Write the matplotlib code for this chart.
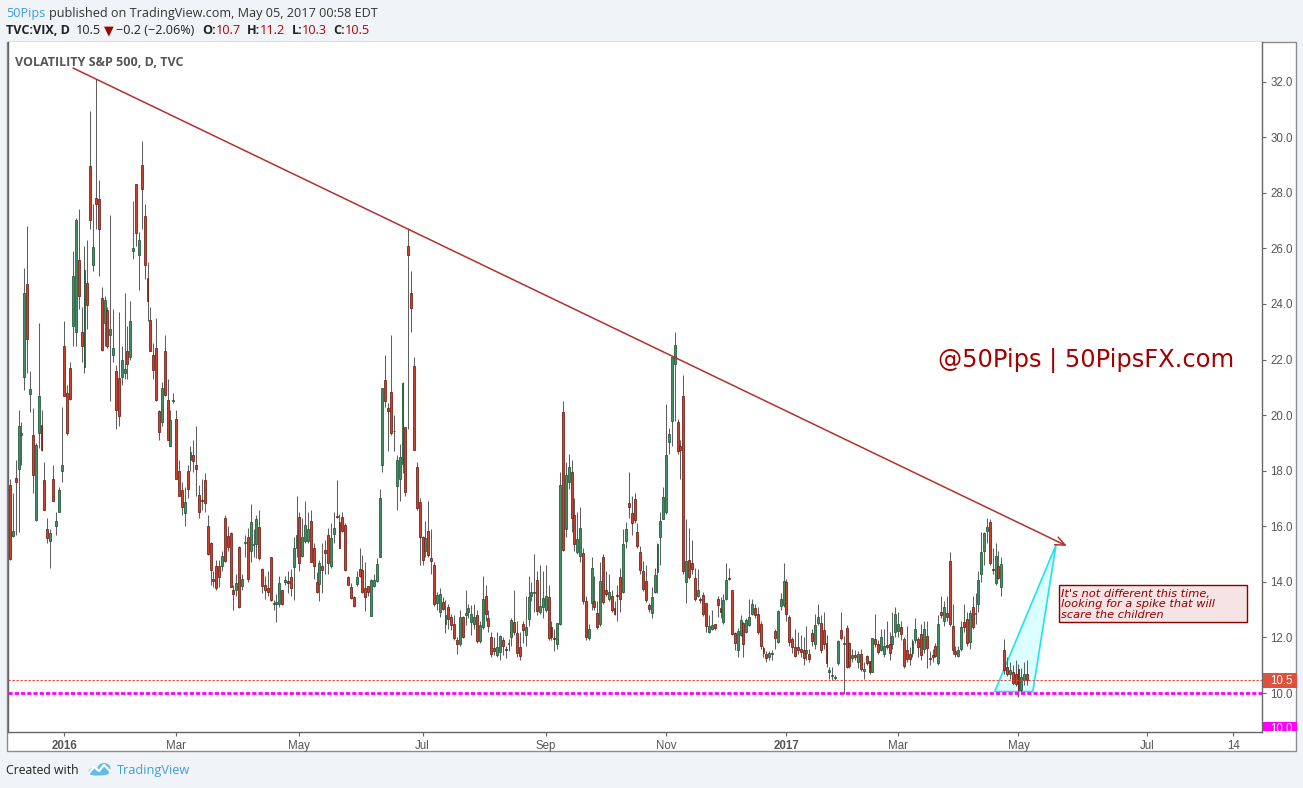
import numpy as np
import pandas as pd
import matplotlib
matplotlib.use("Agg")
import matplotlib.pyplot as plt
from matplotlib.patches import Rectangle, Polygon, Ellipse
from matplotlib.transforms import IdentityTransform

# VIX daily candles (open, high, low, close), per month
dec15 = [(17.50, 17.70, 14.80, 14.81), (15.65, 17.20, 15.60, 15.84), (17.75, 18.40, 15.70, 17.60),
         (18.06, 20.20, 15.80, 19.61), (19.27, 19.75, 18.20, 19.34), (21.36, 25.30, 20.90, 24.39),
         (24.70, 26.81, 21.50, 22.73), (20.75, 21.60, 20.10, 20.95), (19.27, 20.25, 17.20, 17.86),
         (16.22, 19.00, 16.20, 18.94), (19.36, 23.30, 18.80, 20.70), (19.65, 20.20, 18.70, 18.74),
         (17.66, 18.30, 16.60, 16.60), (15.90, 16.30, 15.40, 15.57), (15.46, 15.90, 14.50, 15.74),
         (17.70, 18.20, 16.90, 16.91), (16.00, 16.50, 15.70, 16.20), (16.50, 17.40, 16.50, 17.29),
         (17.99, 20.30, 17.60, 18.21)]
jan16 = [(22.48, 23.40, 20.70, 20.70), (20.78, 21.10, 19.30, 19.34), (21.69, 21.90, 20.55, 20.59),
         (23.20, 25.90, 22.50, 24.99), (22.98, 27.10, 22.50, 27.01), (25.57, 27.40, 23.80, 24.30),
         (22.98, 23.90, 21.90, 22.47), (21.73, 26.10, 21.50, 25.22), (24.74, 26.30, 23.10, 23.95),
         (28.96, 30.95, 26.70, 27.02), (25.40, 27.60, 25.20, 26.05), (27.80, 32.09, 26.70, 27.59),
         (27.78, 28.45, 25.00, 26.69), (24.20, 24.60, 22.30, 22.34), (23.30, 24.30, 22.50, 24.15),
         (23.78, 23.90, 22.40, 22.50), (22.87, 27.20, 20.50, 23.11), (22.16, 23.80, 21.90, 22.42),
         (21.60, 21.80, 19.50, 20.20)]
feb16 = [(21.33, 23.70, 19.60, 19.98), (21.36, 22.50, 21.10, 21.98), (21.50, 24.40, 21.30, 21.65),
         (22.30, 23.20, 21.30, 21.84), (22.08, 24.10, 22.00, 23.38), (25.90, 27.70, 25.60, 26.00),
         (28.30, 28.30, 26.10, 26.54), (25.76, 26.60, 24.50, 26.29), (29.00, 29.85, 26.70, 28.14),
         (27.17, 27.60, 24.90, 25.40), (24.95, 25.50, 23.40, 24.11), (23.42, 23.90, 22.30, 22.31),
         (22.16, 22.60, 21.30, 21.64), (22.41, 23.50, 20.50, 20.53), (20.16, 20.20, 19.10, 19.38),
         (19.75, 21.20, 19.60, 20.98), (22.31, 22.90, 20.70, 20.72), (20.54, 21.30, 19.10, 19.11),
         (18.88, 20.20, 18.88, 19.81), (20.50, 20.80, 20.45, 20.55)]
mar16 = [(19.86, 20.20, 17.70, 17.70), (17.99, 18.40, 17.09, 17.09), (17.30, 17.60, 16.40, 16.70),
         (16.48, 17.40, 16.00, 16.86), (17.99, 18.20, 17.00, 17.35), (18.38, 18.90, 18.00, 18.67),
         (18.56, 19.10, 17.95, 18.34), (18.20, 19.60, 17.10, 18.05), (17.13, 17.50, 16.30, 16.50),
         (16.95, 17.70, 16.60, 16.92), (17.66, 17.90, 16.50, 16.84), (16.00, 16.40, 14.95, 14.99),
         (15.40, 15.45, 13.90, 14.44), (14.10, 14.40, 13.80, 14.02), (14.56, 14.80, 13.70, 13.79),
         (14.56, 14.80, 13.80, 14.17), (14.56, 15.10, 14.40, 14.94), (16.30, 16.40, 14.70, 14.74),
         (15.64, 16.00, 15.10, 15.24), (15.75, 15.80, 13.80, 13.82), (13.70, 13.90, 13.00, 13.56),
         (13.72, 14.30, 13.50, 13.95)]
apr16 = [(15.24, 15.30, 13.05, 13.10), (13.86, 14.30, 13.70, 14.12), (15.38, 15.70, 14.90, 15.42),
         (15.60, 15.95, 14.00, 14.09), (15.12, 16.80, 14.70, 16.16), (15.33, 15.90, 14.90, 15.36),
         (15.36, 16.40, 14.85, 16.26), (15.96, 16.60, 14.80, 14.85), (14.48, 14.50, 13.60, 13.84),
         (13.90, 14.20, 13.40, 13.72), (13.78, 14.40, 13.50, 13.62), (14.88, 14.90, 13.30, 13.35),
         (13.20, 13.35, 13.00, 13.24), (13.20, 13.55, 12.55, 13.28), (13.20, 14.20, 13.10, 13.95),
         (13.70, 13.72, 13.18, 13.22), (14.00, 14.20, 13.90, 14.08), (14.02, 14.40, 13.60, 13.96),
         (14.16, 14.45, 13.50, 13.77), (14.52, 15.60, 13.35, 15.22), (15.20, 17.10, 14.90, 15.70)]
may16 = [(16.32, 16.50, 14.40, 14.68), (14.94, 16.30, 14.90, 15.60), (15.46, 16.90, 15.40, 16.05),
         (15.48, 16.50, 15.40, 15.91), (16.20, 16.60, 14.70, 14.72), (15.20, 15.40, 14.10, 14.57),
         (13.98, 14.35, 13.60, 13.63), (13.92, 14.80, 13.30, 14.69), (14.56, 15.40, 13.60, 14.41),
         (15.14, 15.50, 14.30, 15.04), (15.70, 15.95, 14.30, 14.68), (14.56, 16.10, 14.50, 15.57),
         (15.72, 16.50, 15.40, 15.95), (16.38, 17.66, 16.30, 16.33), (16.14, 16.45, 15.20, 15.20),
         (16.32, 16.50, 15.80, 15.82), (16.04, 16.10, 14.40, 14.42), (14.18, 14.20, 13.88, 13.90),
         (13.80, 13.95, 13.40, 13.43), (13.46, 13.50, 13.10, 13.12), (13.94, 14.40, 13.85, 14.19)]
jun16 = [(14.46, 15.20, 14.18, 14.20), (14.42, 14.95, 13.60, 13.63), (13.78, 14.70, 12.95, 13.47),
         (13.84, 13.86, 13.50, 13.65), (12.76, 14.10, 12.76, 14.05), (13.86, 14.30, 13.80, 14.08),
         (14.02, 14.85, 14.00, 14.64), (14.88, 17.35, 14.88, 17.03), (18.20, 20.97, 17.95, 20.97),
         (21.28, 22.15, 20.30, 20.50), (20.24, 20.45, 18.70, 20.14), (20.82, 22.90, 19.30, 19.37),
         (19.42, 20.00, 18.70, 19.41), (17.44, 18.55, 16.60, 18.37), (17.70, 18.95, 16.90, 18.48),
         (18.24, 21.20, 17.90, 21.17), (19.56, 19.56, 17.10, 17.25), (26.08, 26.72, 19.50, 25.76),
         (24.40, 25.20, 22.98, 23.85), (21.76, 22.10, 18.75, 18.75), (18.12, 18.30, 16.60, 16.64),
         (16.88, 17.00, 14.60, 15.63)]
jul16 = [(15.60, 15.65, 14.60, 14.77), (15.10, 16.20, 14.90, 15.58), (15.83, 16.90, 14.90, 14.96),
         (14.85, 15.90, 14.30, 14.76), (14.60, 14.70, 13.13, 13.20), (13.23, 13.65, 12.99, 13.54),
         (12.90, 13.77, 12.75, 13.55), (13.27, 13.47, 12.99, 13.04), (12.47, 13.35, 12.15, 12.82),
         (13.08, 13.20, 12.30, 12.67), (12.72, 12.85, 12.27, 12.44), (12.50, 12.80, 11.90, 11.97),
         (11.91, 12.00, 11.40, 11.77), (11.75, 13.00, 11.70, 12.74), (12.75, 12.78, 11.97, 12.02),
         (12.80, 13.70, 12.45, 12.87), (12.90, 13.20, 12.70, 13.05), (12.56, 13.15, 12.10, 12.83),
         (12.47, 13.20, 12.30, 12.72), (12.80, 13.00, 11.80, 11.87)]
aug16 = [(11.88, 12.60, 11.80, 12.44), (12.36, 14.20, 12.30, 13.37), (13.48, 13.90, 12.60, 12.86),
         (12.70, 13.00, 12.20, 12.42), (12.03, 12.20, 11.30, 11.39), (11.63, 12.00, 11.35, 11.50),
         (11.36, 12.20, 11.30, 11.66), (11.46, 12.10, 11.20, 12.05), (11.91, 12.00, 11.35, 11.68),
         (11.60, 11.70, 11.25, 11.55), (11.75, 11.95, 11.50, 11.81), (12.00, 12.70, 11.70, 12.64),
         (12.55, 13.70, 12.10, 12.19), (12.15, 12.60, 11.30, 11.43), (11.65, 12.20, 11.20, 11.34),
         (12.50, 12.60, 11.80, 12.27), (12.10, 13.50, 11.70, 12.38), (12.65, 14.20, 12.40, 13.45),
         (13.50, 14.00, 13.30, 13.63), (13.60, 15.00, 12.90, 13.65), (14.07, 14.40, 12.80, 12.94),
         (12.90, 14.60, 12.85, 13.12), (13.10, 14.40, 12.70, 13.42)]
sep16 = [(13.00, 14.60, 12.90, 13.48), (13.44, 13.90, 11.90, 11.98), (12.37, 12.60, 11.90, 12.02),
         (11.95, 12.30, 11.50, 11.94), (11.75, 12.50, 11.60, 12.51), (12.47, 17.95, 12.45, 17.50),
         (20.10, 20.51, 15.10, 15.16), (15.90, 18.30, 15.60, 17.85), (17.60, 18.60, 17.35, 18.14),
         (17.94, 18.40, 15.80, 16.30), (16.40, 17.00, 15.10, 15.37), (15.08, 16.50, 15.00, 15.53),
         (14.94, 16.70, 14.70, 15.92), (15.03, 15.20, 13.20, 13.30), (13.32, 13.50, 11.90, 12.00),
         (11.97, 12.50, 11.90, 12.29), (13.23, 14.90, 13.00, 14.50), (13.32, 14.20, 13.00, 13.10),
         (12.87, 13.30, 12.30, 12.39), (12.50, 14.70, 12.40, 14.02), (14.88, 15.00, 13.20, 13.29)]
oct16 = [(13.71, 14.40, 13.50, 13.57), (13.37, 14.30, 13.30, 13.63), (13.50, 13.70, 12.90, 12.99),
         (13.07, 13.30, 12.80, 12.84), (13.52, 13.90, 12.60, 13.48), (14.16, 14.50, 12.90, 13.38),
         (13.65, 15.90, 13.60, 15.36), (15.48, 16.15, 15.20, 15.91), (16.85, 17.95, 16.30, 16.69),
         (16.46, 17.10, 15.70, 16.12), (16.97, 17.20, 16.10, 16.21), (15.78, 16.10, 15.20, 15.28),
         (15.08, 15.30, 14.30, 14.41), (14.39, 14.75, 13.68, 13.75), (14.03, 14.60, 13.29, 13.34),
         (13.17, 13.25, 12.90, 13.02), (12.87, 13.80, 12.70, 13.46), (13.62, 14.50, 13.60, 14.24),
         (14.34, 15.40, 13.60, 15.36), (15.63, 16.50, 14.60, 16.19), (16.26, 17.40, 16.26, 17.06)]
nov16 = [(16.50, 20.40, 16.45, 18.56), (19.05, 19.55, 18.60, 19.32), (19.80, 22.10, 18.90, 22.08),
         (21.83, 23.00, 19.80, 22.51), (19.74, 19.85, 18.60, 18.71), (18.89, 19.10, 17.70, 18.74),
         (20.69, 21.44, 14.30, 14.38), (13.98, 16.25, 13.25, 14.74), (14.79, 15.95, 14.10, 14.17),
         (14.67, 15.50, 14.30, 14.48), (14.13, 14.50, 13.30, 13.37), (13.49, 14.45, 13.45, 13.72),
         (13.40, 13.45, 13.25, 13.35), (13.53, 13.65, 12.77, 12.85), (13.23, 13.23, 12.20, 12.42),
         (12.21, 12.80, 12.17, 12.41), (12.29, 13.00, 12.27, 12.43), (12.49, 12.50, 12.27, 12.34),
         (13.37, 13.50, 12.75, 13.15), (13.05, 13.45, 12.70, 12.90), (12.55, 13.56, 12.50, 13.33)]
dec16 = [(13.39, 14.67, 13.35, 14.07), (14.13, 14.50, 14.07, 14.12), (13.71, 13.71, 12.10, 12.14),
         (12.15, 12.20, 11.55, 11.79), (11.55, 12.33, 11.30, 12.22), (12.09, 12.80, 12.05, 12.64),
         (12.53, 12.57, 11.30, 11.75), (12.21, 12.70, 12.15, 12.64), (12.45, 13.37, 12.40, 12.72),
         (12.85, 13.37, 12.80, 13.19), (13.05, 13.20, 12.70, 12.79), (12.85, 13.08, 12.12, 12.20),
         (12.47, 12.60, 11.60, 11.70), (11.61, 11.70, 11.30, 11.45), (11.39, 11.50, 11.10, 11.27),
         (11.30, 11.50, 11.20, 11.43), (11.40, 11.55, 11.20, 11.44), (12.23, 12.30, 11.60, 11.99),
         (11.85, 13.00, 11.80, 12.95), (13.13, 13.60, 13.00, 13.37), (13.17, 14.68, 13.10, 14.04)]
jan17 = [(14.00, 14.10, 12.60, 12.85), (12.75, 12.80, 11.70, 11.85), (11.93, 12.00, 11.45, 11.67),
         (11.67, 12.30, 11.30, 11.32), (11.67, 12.20, 11.40, 11.56), (11.60, 12.10, 11.30, 11.49),
         (11.55, 12.00, 11.00, 11.26), (11.45, 12.40, 11.20, 11.54), (11.39, 11.60, 11.10, 11.23),
         (12.15, 12.30, 11.70, 11.87), (11.77, 12.85, 11.60, 12.45), (12.53, 13.20, 12.45, 12.75),
         (12.53, 12.80, 11.45, 11.54), (12.27, 12.90, 11.60, 11.77), (11.81, 12.10, 10.95, 11.07),
         (10.75, 10.95, 10.50, 10.81), (10.60, 10.95, 10.45, 10.63), (10.55, 10.65, 10.45, 10.58),
         (11.07, 11.90, 11.00, 11.88), (12.27, 12.90, 11.90, 11.99)]
feb17 = [(11.75, 12.05, 9.95, 11.80), (12.33, 12.45, 10.90, 10.95), (11.80, 11.85, 10.90, 10.97),
         (11.25, 11.60, 11.10, 11.37), (11.37, 11.55, 11.20, 11.30), (11.13, 11.50, 10.90, 11.40),
         (11.40, 11.60, 10.80, 10.88), (10.80, 11.10, 10.50, 10.85), (11.34, 11.35, 11.00, 11.07),
         (11.15, 11.15, 10.70, 10.74), (10.76, 11.97, 10.76, 11.97), (11.96, 12.85, 11.65, 11.76),
         (11.78, 11.90, 11.40, 11.49), (11.54, 12.30, 11.50, 12.02), (11.42, 12.30, 11.30, 11.70),
         (11.72, 12.60, 11.60, 11.64), (11.76, 12.20, 11.20, 11.45), (11.75, 12.90, 11.60, 12.05),
         (12.20, 13.10, 12.00, 12.86)]
mar17 = [(12.24, 12.90, 12.00, 12.50), (12.38, 12.60, 11.90, 12.14), (11.93, 12.00, 10.90, 10.96),
         (11.54, 12.40, 11.10, 11.24), (11.40, 11.65, 11.00, 11.21), (11.45, 11.95, 11.30, 11.86),
         (11.90, 12.70, 11.80, 12.30), (11.94, 12.00, 11.30, 11.66), (12.12, 12.50, 11.20, 11.35),
         (11.57, 12.60, 11.45, 12.30), (12.05, 12.60, 10.90, 11.63), (11.25, 11.50, 11.00, 11.21),
         (11.36, 11.60, 11.10, 11.28), (11.69, 11.80, 11.30, 11.34), (11.09, 12.80, 11.00, 12.47),
         (12.92, 13.50, 12.70, 12.81), (12.60, 13.30, 12.40, 13.08), (12.89, 13.50, 12.60, 12.72),
         (14.75, 15.08, 12.40, 12.50), (12.41, 13.20, 11.40, 11.53), (11.51, 11.70, 11.30, 11.42),
         (11.34, 11.70, 11.30, 11.54), (11.57, 12.60, 11.50, 12.37)]
apr17 = [(12.54, 13.20, 12.20, 12.38), (12.68, 12.90, 11.70, 11.79), (11.84, 13.00, 11.60, 12.89),
         (13.08, 13.50, 12.30, 12.39), (12.84, 13.60, 12.50, 12.87), (13.19, 14.40, 12.90, 14.05),
         (14.28, 15.80, 14.00, 15.07), (15.12, 15.80, 14.60, 15.77), (15.84, 16.28, 15.40, 15.96),
         (16.16, 16.25, 14.60, 14.66), (14.46, 15.20, 14.30, 14.42), (13.97, 15.40, 13.90, 14.93),
         (14.57, 15.10, 14.10, 14.15), (13.80, 14.90, 13.50, 14.63), (11.54, 11.96, 10.70, 10.84),
         (10.94, 11.30, 10.60, 10.68), (10.70, 11.10, 10.50, 10.82), (10.76, 11.00, 10.30, 10.36),
         (10.70, 11.20, 10.25, 10.31)]
may17 = [(10.88, 11.06, 9.86, 10.11), (10.10, 10.90, 10.05, 10.58), (10.46, 11.10, 10.30, 10.68),
         (10.70, 11.20, 10.30, 10.46)]

holidays = ['2015-12-25', '2016-01-01', '2016-01-18', '2016-02-15', '2016-03-25', '2016-05-30',
            '2016-07-04', '2016-09-05', '2016-11-24', '2016-12-26', '2017-01-02', '2017-01-16',
            '2017-02-20', '2017-04-14']

tick_dates = ['2016-01-01', '2016-03-01', '2016-05-01', '2016-07-01', '2016-09-01', '2016-11-01',
              '2017-01-01', '2017-03-01', '2017-05-01', '2017-07-03', '2017-08-14']
tick_labels = ['2016', 'Mar', 'May', 'Jul', 'Sep', 'Nov', '2017', 'Mar', 'May', 'Jul', '14']

# drawings on the chart (bar index, price)
trend_line = [(22.0, 32.49), (368.9, 15.29)]
spike_zone = [(343.7, 10.05), (365.1, 15.33), (357.0, 10.05)]
support_level = 10.0
note = ["It's not different this time,", "looking for a spike that will", "scare the children"]

# ---------------------------------------------------------------
ohlc = np.array(dec15 + jan16 + feb16 + mar16 + apr16 + may16 + jun16 + jul16 + aug16 + sep16
                + oct16 + nov16 + dec16 + jan17 + feb17 + mar17 + apr17 + may17)
days = pd.bdate_range('2015-12-04', '2017-05-04', freq='C', holidays=holidays)
assert len(days) == len(ohlc), (len(days), len(ohlc))
o, h, l, c = ohlc.T
h = np.maximum(h, np.maximum(o, c))
l = np.minimum(l, np.minimum(o, c))
x = np.arange(len(c))

future = pd.bdate_range(days[-1] + pd.Timedelta(days=1), periods=120)


def bar_index(d):
    d = pd.Timestamp(d)
    if d <= days[-1]:
        return int(np.searchsorted(days, d))
    return len(days) + int(np.searchsorted(future, d))


W, H = 1303, 788
PX_DAY, X0 = 2.865, 10          # bar spacing / first bar position (px)
PX_UNIT, Y10 = 27.79, 693       # px per vol point / pixel row of 10.0
ID = IdentityTransform()

fig = plt.figure(figsize=(W / 100, H / 100), dpi=100, facecolor='#f0f3f7')
renderer = fig.canvas.get_renderer()

fig.add_artist(Rectangle((7, H - 751), 1296 - 7, 751 - 42, transform=ID,
                         facecolor='white', edgecolor='#8c8c8c', lw=1, zorder=0))

ax = fig.add_axes([8 / W, 1 - 732 / H, (1262 - 8) / W, (732 - 42) / H])
ax.set_xlim((8 - X0) / PX_DAY, (1262 - X0) / PX_DAY)
ax.set_ylim(10 + (Y10 - 732) / PX_UNIT, 10 + (Y10 - 42) / PX_UNIT)
ax.set_facecolor('white')

# candles
up = c >= o
bottom = np.minimum(o, c)
height = np.maximum(np.abs(c - o), 0.035)
ax.vlines(x, l, h, color='#606060', lw=0.75, zorder=2)
ax.bar(x[up], height[up], 0.68, bottom[up], color='#3f9163', edgecolor='#1d5536', lw=0.55, zorder=3)
ax.bar(x[~up], height[~up], 0.68, bottom[~up], color='#d13f2b', edgecolor='#6b1d12', lw=0.55, zorder=3)

# price lines
ax.axhline(c[-1], color='#e8412c', lw=0.8, dashes=(2, 1.6), zorder=4)
ax.axhline(support_level, color='#ff00ff', lw=2, dashes=(1.5, 0.75), zorder=4)

# trend line with arrow
(tx0, ty0), (tx1, ty1) = trend_line
ax.annotate('', xy=(tx1, ty1), xytext=(tx0, ty0),
            arrowprops=dict(arrowstyle='->,head_length=0.7,head_width=0.3', color='#b3302c',
                            lw=1.1, shrinkA=0, shrinkB=0), zorder=5)

# spike zone
ax.add_patch(Polygon(spike_zone, closed=True, facecolor=(0.55, 1.0, 1.0, 0.3),
                     edgecolor='#1fe3f2', lw=1.2, zorder=1))

# axes styling
for s in ['left', 'right', 'bottom']:
    ax.spines[s].set_color('#666666')
    ax.spines[s].set_linewidth(1)
ax.spines['top'].set_visible(False)

ax.yaxis.tick_right()
yt = np.arange(10, 33, 2)
ax.set_yticks(yt)
ax.set_yticklabels([f'{v:.1f}' for v in yt])
xt = [bar_index(d) for d in tick_dates]
ax.set_xticks(xt)
ax.set_xticklabels(tick_labels)
ax.tick_params(axis='both', direction='out', length=3, width=0.8, colors='#666666',
               labelcolor='#555555', labelsize=8.3, pad=3)
for lbl in ax.get_yticklabels() + ax.get_xticklabels():
    lbl.set_family('Liberation Sans')
for lbl in ax.get_xticklabels():
    if lbl.get_text() in ('2016', '2017'):
        lbl.set_fontweight('bold')

# right side price badges
fig.add_artist(Rectangle((1263, H - 688), 34, 15, transform=ID, facecolor='#d9533e',
                         edgecolor='none', zorder=6))
fig.text(1270, H - 680.5, f'{c[-1]:.1f}', transform=ID, color='white', fontsize=8.3,
         family='Liberation Sans', va='center', ha='left', zorder=7)
mag = Rectangle((1263, H - 731), 34, 9, transform=ID, facecolor='#ff00ff', edgecolor='none', zorder=6)
fig.add_artist(mag)
t = fig.text(1270, H - 729, f'{support_level:.1f}', transform=ID, color='white', fontsize=8.3,
             family='Liberation Sans', va='center', ha='left', zorder=7)
t.set_clip_path(mag)

# labels inside the chart
fig.text(15, H - 66, 'VOLATILITY S&P 500, D, TVC', transform=ID, color='#555555', fontsize=9.0,
         fontweight='bold', family=['Open Sans', 'DejaVu Sans'], va='baseline')
fig.text(938, H - 367, '@50Pips | 50PipsFX.com', transform=ID, color='#a30000', fontsize=17.4,
         family='DejaVu Sans', va='baseline')

fig.add_artist(Rectangle((1059, H - 622), 1247 - 1059, 622 - 585, transform=ID,
                         facecolor='#f6e4e4', edgecolor='#8e0000', lw=1, zorder=6))
for i, line in enumerate(note):
    fig.text(1061, H - (593.5 + 10.5 * i), line, transform=ID, color='#8e0000', fontsize=8.2,
             family='DejaVu Sans', style='italic', va='center', zorder=7)


# header
def run(x0, y0, parts, size=9.1):
    xx = x0
    for s, col, wt, gap in parts:
        tt = fig.text(xx, H - y0, s, transform=ID, color=col, fontsize=size, fontweight=wt,
                      family=['Open Sans', 'DejaVu Sans'], va='baseline', ha='left')
        xx += tt.get_window_extent(renderer).width + gap


red = '#b00000'
run(6, 16.5, [('50Pips', '#3aa0da', 'normal', 4),
              ('published on TradingView.com, May 05, 2017 00:58 EDT', '#333333', 'normal', 0)])
run(6, 34, [('TVC:VIX, D', '#222222', 'bold', 6), ('10.5', '#222222', 'normal', 3),
            ('\u25bc', '#a30000', 'normal', 2), ('\u22120.2 (\u22122.06%)', '#222222', 'normal', 8),
            ('O:', '#222222', 'bold', 0), ('10.7', red, 'normal', 6),
            ('H:', '#222222', 'bold', 0), ('11.2', red, 'normal', 6),
            ('L:', '#222222', 'bold', 0), ('10.3', red, 'normal', 6),
            ('C:', '#222222', 'bold', 0), ('10.5', red, 'normal', 0)])

# footer
fig.text(6, H - 774, 'Created with', transform=ID, color='#222222', fontsize=8.8,
         family=['Open Sans', 'DejaVu Sans'], va='baseline')
logo_blue = '#5cbfe9'
for cx, cy, w, hh in [(95, 771.5, 13, 8), (104, 768.5, 13, 11), (99, 773, 20, 5)]:
    fig.add_artist(Ellipse((cx, H - cy), w, hh, transform=ID, facecolor=logo_blue, edgecolor='none'))
fig.add_artist(plt.Line2D([89, 94, 99, 104, 110], [H - 773, H - 767, H - 771, H - 765, H - 771],
                          transform=ID, color='white', lw=1.6))
fig.text(117, H - 774, 'TradingView', transform=ID, color='#3aa0da', fontsize=9.2,
         family=['Open Sans', 'DejaVu Sans'], va='baseline')

fig.savefig('out.png', dpi=100, facecolor=fig.get_facecolor())
